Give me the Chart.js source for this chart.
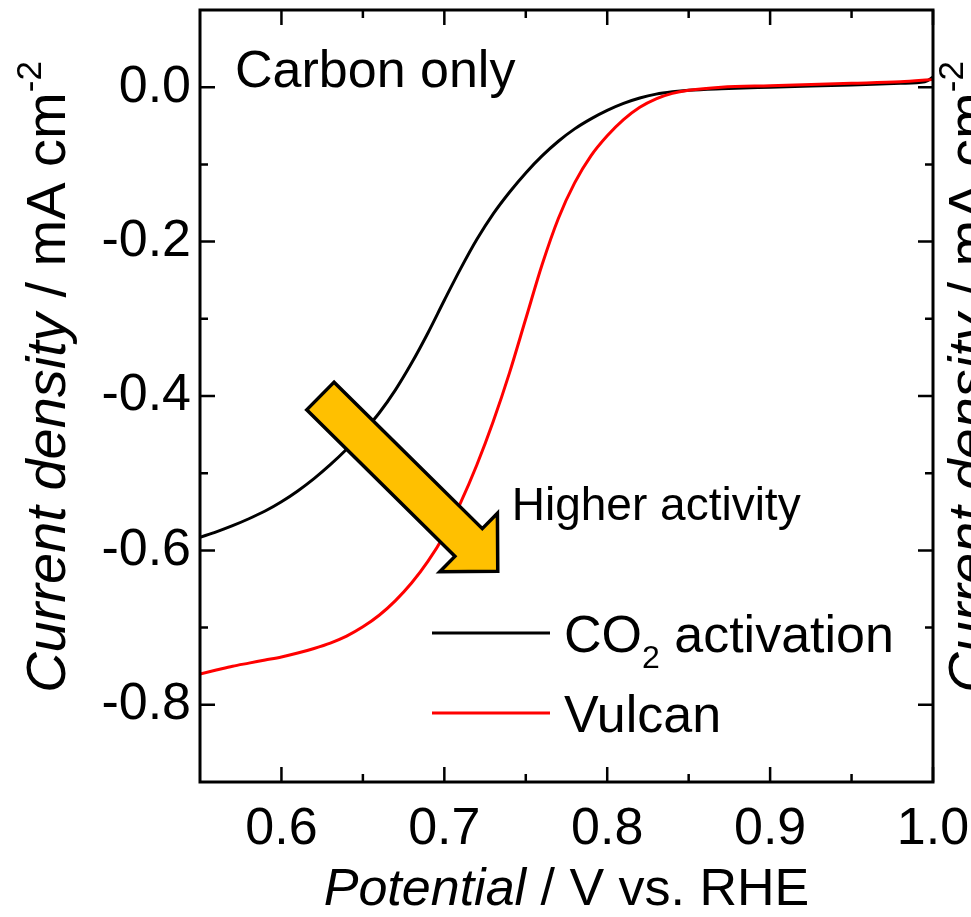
<!DOCTYPE html>
<html><head><meta charset="utf-8">
<script src="https://cdn.jsdelivr.net/npm/chart.js@4.4.1/dist/chart.umd.min.js"></script>
<style>html,body{margin:0;padding:0;background:#fff;overflow:hidden}#wrap{width:971px;height:917px}</style>
</head><body><div id="wrap"><canvas id="c" width="971" height="917"></canvas></div>
<script>
// ---- data ----
const potentialCO2 = [0.55,0.56,0.57,0.58,0.59,0.60,0.61,0.62,0.63,0.64,0.65,0.66,0.67,0.68,0.69,0.70,0.71,0.72,0.73,0.74,0.75,0.76,0.77,0.78,0.79,0.80,0.81,0.82,0.83,0.84,0.85,0.87,0.90,0.95,0.98,0.995,1.00];
const currentCO2   = [-0.583,-0.576,-0.568,-0.559,-0.549,-0.537,-0.523,-0.507,-0.489,-0.469,-0.447,-0.422,-0.392,-0.357,-0.318,-0.276,-0.235,-0.197,-0.164,-0.136,-0.111,-0.089,-0.070,-0.054,-0.041,-0.030,-0.021,-0.014,-0.009,-0.006,-0.004,-0.002,0.000,0.003,0.005,0.007,0.013];
const potentialVulcan = [0.55,0.56,0.57,0.58,0.59,0.60,0.61,0.62,0.63,0.64,0.65,0.66,0.67,0.68,0.69,0.70,0.71,0.72,0.73,0.74,0.75,0.76,0.77,0.78,0.79,0.80,0.81,0.82,0.83,0.84,0.85,0.87,0.90,0.95,0.98,1.00];
const currentVulcan   = [-0.760,-0.755,-0.750,-0.746,-0.742,-0.738,-0.733,-0.727,-0.720,-0.711,-0.699,-0.684,-0.665,-0.642,-0.614,-0.580,-0.538,-0.489,-0.433,-0.370,-0.300,-0.230,-0.170,-0.124,-0.089,-0.063,-0.042,-0.026,-0.015,-0.008,-0.004,0.000,0.002,0.005,0.007,0.010];
const seriesNames = ['CO2 activation', 'Vulcan'];
const xTickValues = [0.6, 0.7, 0.8, 0.9, 1.0];
const xMinorValues = [0.65, 0.75, 0.85, 0.95];
const yTickValues = [0.0, -0.2, -0.4, -0.6, -0.8];
const yMinorValues = [-0.1, -0.3, -0.5, -0.7];
const panelLabel = 'Carbon only';
const arrowLabel = 'Higher activity';
const arrowTail = [0.6239, -0.400];
const arrowTip = [0.7328, -0.6271];
const xTitle = [['Potential','italic'],[' / V vs. RHE','normal']];
const yTitle = [['Current density','italic'],[' / mA cm','normal'],['-2','sup']];

const FONT = '"Liberation Sans", Arial, sans-serif';

function richWidth(ctx, parts, size){
  let w = 0;
  for (const [t, st] of parts){
    ctx.font = (st==='italic'?'italic ':'') + (st==='sup'||st==='sub'? Math.round(size*0.62):size) + 'px ' + FONT;
    w += ctx.measureText(t).width;
  }
  return w;
}
function drawRich(ctx, parts, x, y, size, align){
  let w = richWidth(ctx, parts, size);
  let cx = align==='center' ? x - w/2 : x;
  ctx.textAlign = 'left'; ctx.textBaseline = 'alphabetic'; ctx.fillStyle = '#000';
  for (const [t, st] of parts){
    const s = (st==='sup'||st==='sub') ? Math.round(size*0.62) : size;
    ctx.font = (st==='italic'?'italic ':'') + s + 'px ' + FONT;
    const dy = st==='sup' ? -size*0.42 : (st==='sub' ? size*0.30 : 0);
    ctx.fillText(t, cx, y + dy);
    cx += ctx.measureText(t).width;
  }
}

const framePlugin = {
  id:'frame',
  afterDraw(chart){
    const {ctx, chartArea:a, scales:{x, y}} = chart;
    ctx.save();
    ctx.strokeStyle = '#000'; ctx.lineWidth = 3; ctx.lineCap = 'butt';
    ctx.strokeRect(a.left, a.top, a.right - a.left, a.bottom - a.top);
    ctx.lineWidth = 2.5;
    const tick = (vals, len) => {
      for (const v of vals){
        const px = x.getPixelForValue(v);
        ctx.beginPath();
        ctx.moveTo(px, a.bottom); ctx.lineTo(px, a.bottom - len);
        ctx.moveTo(px, a.top); ctx.lineTo(px, a.top + len);
        ctx.stroke();
      }
    };
    const ytick = (vals, len) => {
      for (const v of vals){
        const py = y.getPixelForValue(v);
        ctx.beginPath();
        ctx.moveTo(a.left, py); ctx.lineTo(a.left + len, py);
        ctx.moveTo(a.right, py); ctx.lineTo(a.right - len, py);
        ctx.stroke();
      }
    };
    tick(xTickValues, 15); tick(xMinorValues, 8);
    ytick(yTickValues, 15); ytick(yMinorValues, 8);

    // axis titles
    drawRich(ctx, xTitle, (a.left + a.right)/2, 905, 52, 'center');
    ctx.save();
    ctx.translate(65, 377); ctx.rotate(-Math.PI/2);
    drawRich(ctx, yTitle, 0, 0, 56, 'center');
    ctx.restore();
    // neighbouring panel's axis title, cut by the right edge
    ctx.save();
    ctx.translate(987, 377); ctx.rotate(-Math.PI/2);
    drawRich(ctx, yTitle, 0, 0, 56, 'center');
    ctx.restore();
    ctx.restore();
  }
};

const overlayPlugin = {
  id:'overlay',
  afterDatasetsDraw(chart){
    const {ctx, chartArea:a, scales:{x, y}} = chart;
    ctx.save();
    // arrow
    const p0 = [x.getPixelForValue(arrowTail[0]), y.getPixelForValue(arrowTail[1])];
    const p1 = [x.getPixelForValue(arrowTip[0]), y.getPixelForValue(arrowTip[1])];
    const dx = p1[0]-p0[0], dy = p1[1]-p0[1], L = Math.hypot(dx, dy);
    const d = [dx/L, dy/L], n = [-d[1], d[0]];
    const w = 19.5, H = 41, HL = 41;
    const b = [p1[0]-d[0]*HL, p1[1]-d[1]*HL];
    const P = (o, k) => [o[0]+n[0]*k, o[1]+n[1]*k];
    const pts = [P(p0,w), P(b,w), P(b,H), p1, P(b,-H), P(b,-w), P(p0,-w)];
    ctx.beginPath();
    pts.forEach((p,i)=> i? ctx.lineTo(p[0],p[1]) : ctx.moveTo(p[0],p[1]));
    ctx.closePath();
    ctx.fillStyle = '#FFC000'; ctx.fill();
    ctx.lineWidth = 3.5; ctx.lineJoin = 'miter'; ctx.strokeStyle = '#000'; ctx.stroke();

    // labels
    ctx.fillStyle = '#000'; ctx.textAlign = 'left'; ctx.textBaseline = 'alphabetic';
    ctx.font = '52px ' + FONT;
    ctx.fillText(panelLabel, a.left + 35, a.top + 77);
    ctx.font = '46px ' + FONT;
    ctx.fillText(arrowLabel, x.getPixelForValue(0.7414), y.getPixelForValue(-0.561));

    // legend
    const ds = chart.data.datasets;
    const rows = [633, 713];
    ds.forEach((dset, i) => {
      const yy = rows[i];
      ctx.strokeStyle = dset.borderColor; ctx.lineWidth = 3;
      ctx.beginPath(); ctx.moveTo(432, yy); ctx.lineTo(550, yy); ctx.stroke();
      const parts = i === 0 ? [['CO','normal'],['2','sub'],[' activation','normal']] : [[dset.label,'normal']];
      drawRich(ctx, parts, 564, yy + 19, 52, 'left');
    });
    ctx.restore();
  }
};

const ctx = document.getElementById('c').getContext('2d');
new Chart(ctx, {
  type: 'line',
  data: {
    datasets: [
      { label: seriesNames[0], data: potentialCO2.map((v,i)=>({x:v, y:currentCO2[i]})),
        borderColor:'#000000', borderWidth:3, pointRadius:0, fill:false, cubicInterpolationMode:'monotone', order:2 },
      { label: seriesNames[1], data: potentialVulcan.map((v,i)=>({x:v, y:currentVulcan[i]})),
        borderColor:'#FF0000', borderWidth:3, pointRadius:0, fill:false, cubicInterpolationMode:'monotone', order:1 }
    ]
  },
  options: {
    responsive:false, animation:false, devicePixelRatio:1,
    layout:{ padding:{ left:0, right:38, top:10, bottom:0 } },
    plugins:{ legend:{display:false}, tooltip:{enabled:false} },
    scales:{
      x:{ type:'linear', min:0.55, max:1.0,
        afterBuildTicks: s => { s.ticks = xTickValues.map(v=>({value:v})); },
        afterFit: s => { s.height = 135; s.paddingLeft = 0; s.paddingRight = 0; },
        grid:{display:false, drawTicks:false}, border:{display:false},
        ticks:{ font:{family:FONT, size:52}, color:'#000', padding:16, maxRotation:0, autoSkip:false,
          callback: v => Number(v).toFixed(1) } },
      y:{ type:'linear', min:-0.9, max:0.1,
        afterBuildTicks: s => { s.ticks = yTickValues.map(v=>({value:v})); },
        afterFit: s => { s.width = 200; s.paddingTop = 0; s.paddingBottom = 0; },
        grid:{display:false, drawTicks:false}, border:{display:false},
        ticks:{ font:{family:FONT, size:52}, color:'#000', padding:9, autoSkip:false,
          callback: v => Number(v).toFixed(1) } }
    }
  },
  plugins:[framePlugin, overlayPlugin]
});
</script>
</body></html>
